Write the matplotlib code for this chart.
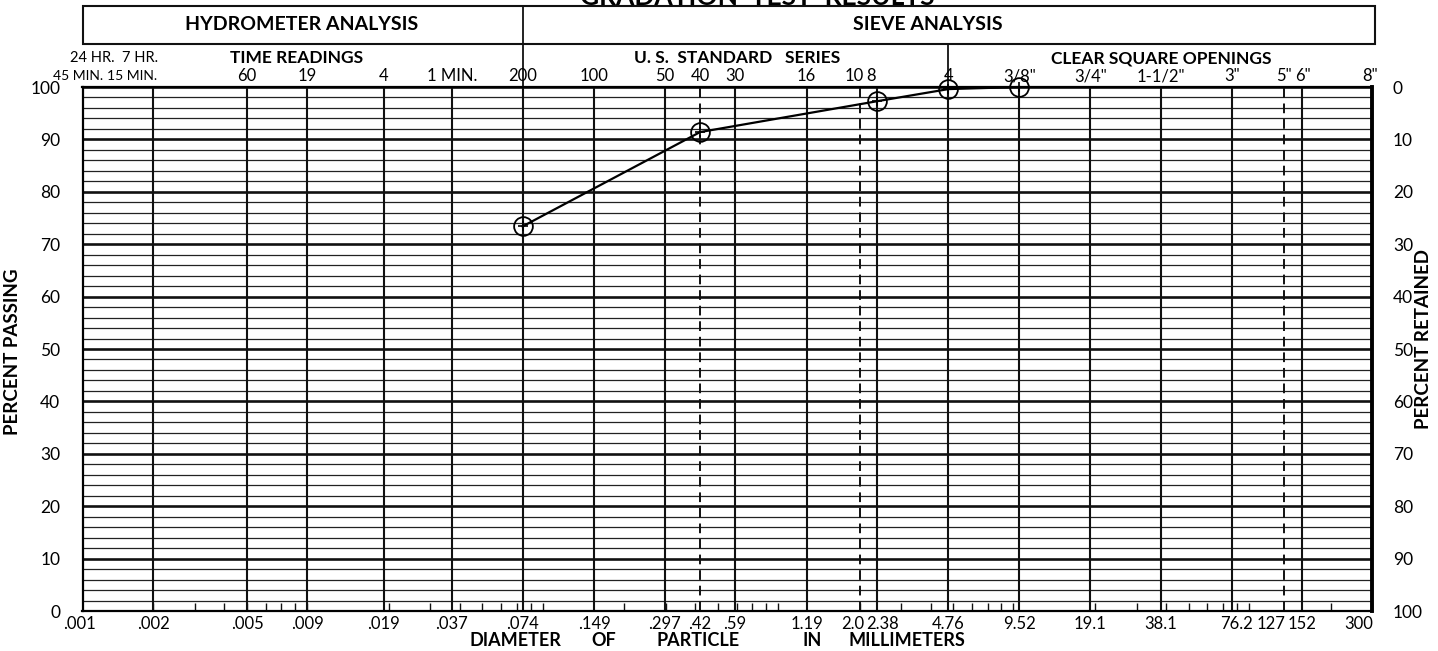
import matplotlib
matplotlib.use('Agg')
import matplotlib.pyplot as plt
import matplotlib.transforms as mtransforms
from matplotlib.lines import Line2D
from matplotlib.patches import Rectangle
from matplotlib.ticker import LogLocator, NullFormatter, NullLocator

plt.rcParams['font.family'] = ['Lato', 'DejaVu Sans']

# sieve test results
sizes_mm = [0.074, 0.42, 2.38, 4.76, 9.52]
pct_passing = [73.4, 91.4, 97.3, 99.6, 100.0]

# chart form: vertical rulings (mm) and their labels
grid_mm = [0.001, 0.002, 0.005, 0.009, 0.019, 0.037, 0.074, 0.149, 0.297,
           0.42, 0.59, 1.19, 2.0, 2.38, 4.76, 9.52, 19.1, 38.1, 76.2, 127,
           152, 300]
dashed_mm = [0.42, 2.0, 127]
bottom_labels = ['.001', '.002', '.005', '.009', '.019', '.037', '.074',
                 '.149', '.297', '.42', '.59', '1.19', '2.0', '2.38', '4.76',
                 '9.52', '19.1', '38.1', '76.2', '127', '152', '300']
top_labels = ['45 MIN.', '15 MIN.', '60', '19', '4', '1 MIN.', '200', '100',
              '50', '40', '30', '16', '10', '8', '4', '3/8"', '3/4"',
              '1-1/2"', '3"', '5"', '6"', '8"']
hour_labels = ['24 HR.', '7 HR.']
hour_mm = [0.001, 0.002]
y_ticks = list(range(0, 101, 10))

# small nudges (pixels) where the printed labels crowd together
bottom_dx = {'.001': -3, '2.0': -7, '2.38': 5, '76.2': 5, '127': -13,
             '300': -13}
top_dx = {'45 MIN.': -4, '15 MIN.': -21, '10': -5, '8': -6, '8"': -2}
hour_dx = {'24 HR.': 10, '7 HR.': -13}
small_top = ['45 MIN.', '15 MIN.']

W, H = 1438, 651


def fx(x):
    return x / W


def fy(y):
    return 1 - y / H


fig = plt.figure(figsize=(W / 100, H / 100), dpi=100)
ax = fig.add_axes([fx(82.5), fy(611), (1372 - 82.5) / W, (611 - 87) / H])
ax.set_xscale('log')
ax.set_xlim(0.001, 300)
ax.set_ylim(0, 100)

# horizontal rulings: heavy every 10 %, light every 2 %
for y in range(0, 101, 2):
    if y % 10 == 0:
        ax.axhline(y, color='#111111', lw=1.9, zorder=1)
    else:
        ax.axhline(y, color='#222222', lw=0.9, zorder=1)

for x in grid_mm:
    if x in dashed_mm:
        ax.axvline(x, color='#111111', lw=1.4, ls=(0, (5, 3)), zorder=2)
    else:
        ax.axvline(x, color='#111111', lw=1.5, zorder=2)

for side in ['left', 'right', 'top', 'bottom']:
    ax.spines[side].set_linewidth(1.6)
ax.spines['right'].set_linewidth(2.8)

ax.xaxis.set_major_locator(NullLocator())
ax.xaxis.set_minor_locator(LogLocator(base=10, subs=range(2, 10), numticks=20))
ax.xaxis.set_minor_formatter(NullFormatter())
ax.tick_params(axis='x', which='minor', direction='in', length=6, width=1,
               color='#111111', top=False)

ax.set_yticks(y_ticks)
ax.set_yticklabels([str(v) for v in y_ticks])
ax.tick_params(axis='y', length=0, pad=16, labelsize=12.5)

ax2 = ax.twinx()
ax2.set_ylim(100, 0)
ax2.set_yticks(y_ticks)
ax2.set_yticklabels([str(v) for v in y_ticks])
ax2.tick_params(axis='y', length=0, pad=15, labelsize=12.5)
for s in ax2.spines.values():
    s.set_visible(False)

ax.set_ylabel('PERCENT PASSING', fontsize=13.5, fontweight='bold')
ax.yaxis.set_label_coords(-0.0475, 0.494)
ax2.set_ylabel('PERCENT RETAINED', fontsize=13.5, fontweight='bold')
ax2.yaxis.set_label_coords(1.0333, 0.52)

# gradation curve
ax.plot(sizes_mm, pct_passing, color='black', lw=1.6, marker='o', ms=13.5,
        mfc='none', mec='black', mew=1.3, zorder=6, clip_on=False)
ax.plot(sizes_mm, pct_passing, ls='none', marker='+', ms=7, mew=1.2,
        color='black', zorder=7, clip_on=False)

blend = mtransforms.blended_transform_factory(ax.transData, ax.transAxes)

# diameter labels below the grid
for x, lab in zip(grid_mm, bottom_labels):
    ax.annotate(lab, xy=(x, 0), xycoords=blend,
                xytext=(bottom_dx.get(lab, 0), -13), textcoords='offset pixels',
                ha='center', va='center', fontsize=12)

# sieve numbers / times above the grid
for x, lab in zip(grid_mm, top_labels):
    ax.annotate(lab, xy=(x, 1), xycoords=blend,
                xytext=(top_dx.get(lab, 0), 11), textcoords='offset pixels',
                ha='center', va='center',
                fontsize=10 if lab in small_top else 12,
                annotation_clip=False)

for x, lab in zip(hour_mm, hour_labels):
    ax.annotate(lab, xy=(x, 1), xycoords=blend,
                xytext=(hour_dx[lab], 29), textcoords='offset pixels',
                ha='center', va='center', fontsize=10.5, annotation_clip=False)

for lab, xpix in [('TIME READINGS', 297), ('U. S.  STANDARD   SERIES', 737),
                  ('CLEAR SQUARE OPENINGS', 1161)]:
    fig.text(fx(xpix), fy(58), lab, ha='center', va='center', fontsize=12.5,
             fontweight='bold')

for lab, xpix in [('DIAMETER', 515), ('OF', 604), ('PARTICLE', 698),
                  ('IN', 812), ('MILLIMETERS', 907)]:
    fig.text(fx(xpix), fy(640), lab, ha='center', va='center', fontsize=13,
             fontweight='bold')

# header box
ax.add_patch(Rectangle((0, 1.082), 1.0025, 0.0726, transform=ax.transAxes,
                       fill=False, lw=1.5, ec='#111111', clip_on=False))
ax.add_line(Line2D([0.074, 0.074], [1.0, 1.1546], transform=blend,
                   color='#111111', lw=1.3, clip_on=False))
ax.add_line(Line2D([4.76, 4.76], [1.0, 1.082], transform=blend,
                   color='#111111', lw=1.3, clip_on=False))
fig.text(fx(302), fy(25), 'HYDROMETER ANALYSIS', ha='center', va='center',
         fontsize=14, fontweight='bold')
fig.text(fx(928), fy(25), 'SIEVE ANALYSIS', ha='center', va='center',
         fontsize=14, fontweight='bold')

fig.text(fx(757), fy(5), 'GRADATION  TEST  RESULTS', ha='center',
         va='baseline', fontsize=19, fontweight='bold')

fig.savefig('out.png', dpi=100)
